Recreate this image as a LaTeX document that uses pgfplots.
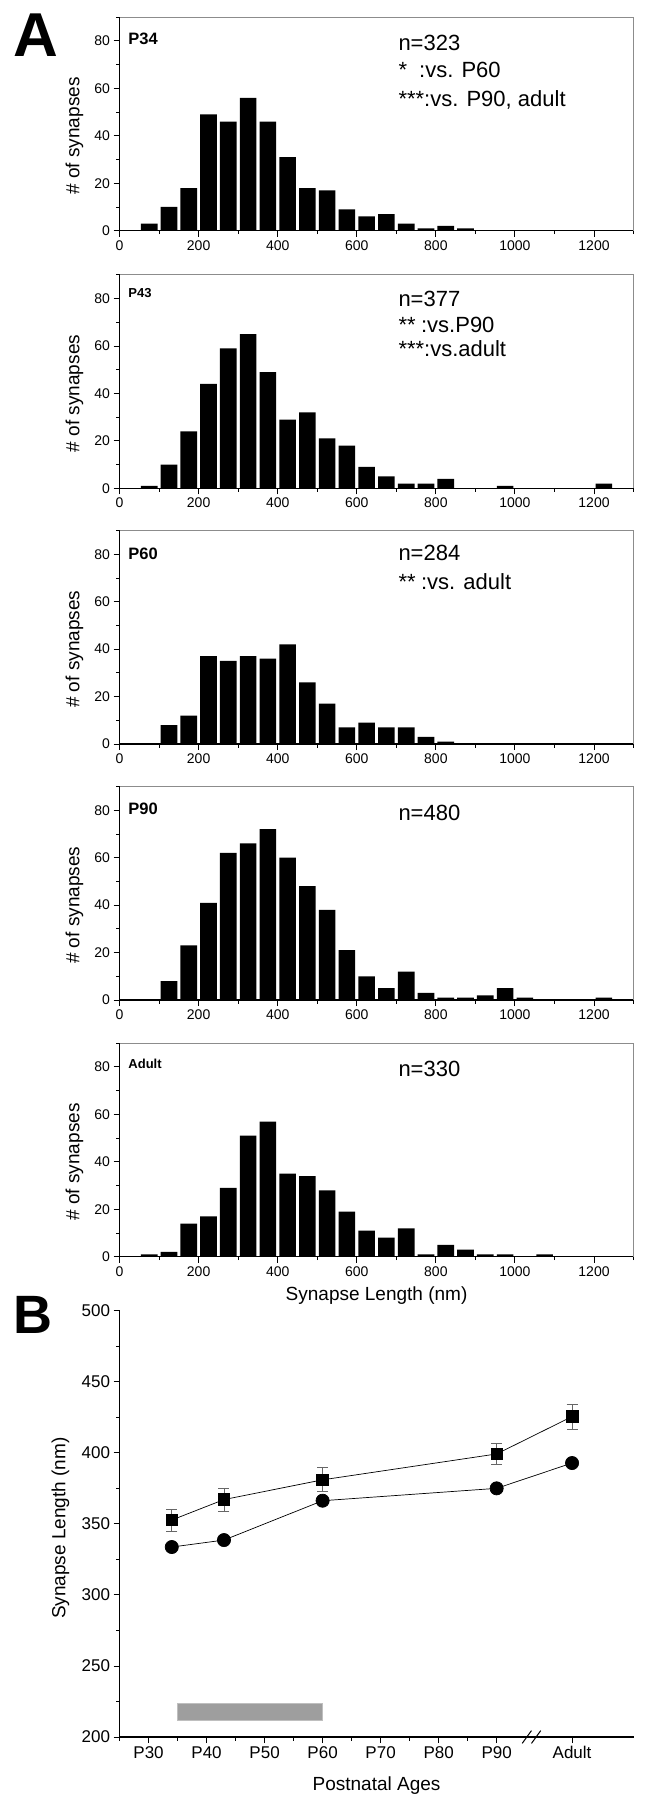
\documentclass[border=0pt]{standalone}
\usepackage{pgfplots}
\pgfplotsset{compat=1.18}
\usepackage{fontspec}
\setmainfont{Liberation Sans}
\begin{document}
\tikzset{
  pl/.style={anchor=west, inner sep=0pt, font=\fontsize{16.5}{18}\selectfont\bfseries},
  pls/.style={anchor=west, inner sep=0pt, font=\fontsize{13}{14}\selectfont\bfseries},
  nt/.style={anchor=west, inner sep=0pt, font=\fontsize{22}{24}\selectfont},
  yl/.style={rotate=90, anchor=center, inner sep=0pt, font=\fontsize{19}{21}\selectfont},
}
\pgfplotsset{
  /pgf/number format/assume math mode=true,
  histo/.style={
    scale only axis, width=514pt, height=213.5pt,
    xmin=0, xmax=1300, ymin=0, ymax=90,
    axis x line*=bottom, axis y line*=left,
    axis line style={line width=1.1pt, black},
    xtick={0,200,...,1200}, minor xtick={100,300,...,1300},
    ytick={0,20,...,80}, minor ytick={10,30,...,90},
    tick align=outside, major tick length=6pt, minor tick length=3.5pt,
    every tick/.style={line width=0.9pt, black},
    ticklabel style={font=\fontsize{14}{15}\selectfont},
    xticklabel style={/pgf/number format/1000 sep={}},
    ybar, bar width=42,
    clip=false,
  },
  hbar/.style={fill=black, draw=none},
}
\begin{tikzpicture}
\path[use as bounding box] (0,0) rectangle (647pt,-1800pt);
\node[anchor=north west, inner sep=0pt, font=\fontsize{62}{62}\selectfont\bfseries] at (8pt,-14pt) {A};
\node[anchor=north west, inner sep=0pt, font=\fontsize{54}{54}\selectfont\bfseries] at (8pt,-1296pt) {B};

% P34
\begin{axis}[histo, at={(114pt,-230.7pt)}, anchor=south west]
\addplot[hbar] coordinates {(75,3) (125,10) (175,18) (225,49) (275,46) (325,56) (375,46) (425,31) (475,18) (525,17) (575,9) (625,6) (675,7) (725,3) (775,1) (825,2) (875,1)};
\draw[black!45, line width=0.8pt] (rel axis cs:0,1) -- (rel axis cs:1,1) -- (rel axis cs:1,0);
\node[yl] at (rel axis cs:-0.0875,0.444) {\# of synapses};
\node[pl] at (axis cs:22,80.8) {P34};
\node[nt] at (axis cs:705,79.3) {n=323};
\node[nt] at (axis cs:705,67.7) {*\hspace{0.55em}:vs. P60};
\node[nt] at (axis cs:705,55.3) {***:vs. P90, adult};
\end{axis}

% P43
\begin{axis}[histo, at={(114pt,-488.3pt)}, anchor=south west]
\addplot[hbar] coordinates {(75,1) (125,10) (175,24) (225,44) (275,59) (325,65) (375,49) (425,29) (475,32) (525,21) (575,18) (625,9) (675,5) (725,2) (775,2) (825,4) (975,1) (1225,2)};
\draw[black!45, line width=0.8pt] (rel axis cs:0,1) -- (rel axis cs:1,1) -- (rel axis cs:1,0);
\node[yl] at (rel axis cs:-0.0875,0.444) {\# of synapses};
\node[pls] at (axis cs:22,82.2) {P43};
\node[nt] at (axis cs:705,79.7) {n=377};
\node[nt] at (axis cs:705,68.8) {**\hspace{0.25em}:vs.P90};
\node[nt] at (axis cs:705,58.7) {***:vs.adult};
\end{axis}

% P60
\begin{axis}[histo, at={(114pt,-744pt)}, anchor=south west]
\addplot[hbar] coordinates {(125,8) (175,12) (225,37) (275,35) (325,37) (375,36) (425,42) (475,26) (525,17) (575,7) (625,9) (675,7) (725,7) (775,3) (825,1)};
\draw[black!45, line width=0.8pt] (rel axis cs:0,1) -- (rel axis cs:1,1) -- (rel axis cs:1,0);
\node[yl] at (rel axis cs:-0.0875,0.444) {\# of synapses};
\node[pl] at (axis cs:22,80) {P60};
\node[nt] at (axis cs:705,80.5) {n=284};
\node[nt] at (axis cs:705,68.4) {**\hspace{0.25em}:vs. adult};
\end{axis}

% P90
\begin{axis}[histo, at={(114pt,-1000pt)}, anchor=south west]
\addplot[hbar] coordinates {(125,8) (175,23) (225,41) (275,62) (325,66) (375,72) (425,60) (475,48) (525,38) (575,21) (625,10) (675,5) (725,12) (775,3) (825,1) (875,1) (925,2) (975,5) (1025,1) (1225,1)};
\draw[black!45, line width=0.8pt] (rel axis cs:0,1) -- (rel axis cs:1,1) -- (rel axis cs:1,0);
\node[yl] at (rel axis cs:-0.0875,0.444) {\# of synapses};
\node[pl] at (axis cs:22,80.4) {P90};
\node[nt] at (axis cs:705,79) {n=480};
\end{axis}

% Adult
\begin{axis}[histo, at={(114pt,-1256.7pt)}, anchor=south west]
\addplot[hbar] coordinates {(75,1) (125,2) (175,14) (225,17) (275,29) (325,51) (375,57) (425,35) (475,34) (525,28) (575,19) (625,11) (675,8) (725,12) (775,1) (825,5) (875,3) (925,1) (975,1) (1075,1)};
\draw[black!45, line width=0.8pt] (rel axis cs:0,1) -- (rel axis cs:1,1) -- (rel axis cs:1,0);
\node[yl] at (rel axis cs:-0.0875,0.444) {\# of synapses};
\node[anchor=base, inner sep=0pt, font=\fontsize{19}{21}\selectfont] at (rel axis cs:0.5,-0.203) {Synapse Length (nm)};
\node[pls] at (axis cs:22,81.5) {Adult};
\node[nt] at (axis cs:705,79.1) {n=330};
\end{axis}

% Panel B
\begin{axis}[
  at={(114pt,-1737pt)}, anchor=south west,
  scale only axis, width=514pt, height=426.3pt,
  xmin=25, xmax=113.6, ymin=200, ymax=500,
  axis x line*=bottom, axis y line*=left,
  axis line style={line width=1.1pt, black},
  xtick={30,40,50,60,70,80,90,103},
  xticklabels={P30,P40,P50,P60,P70,P80,P90,Adult},
  minor xtick={25,35,45,55,65,75,85},
  ytick={200,250,...,500}, minor ytick={225,275,...,475},
  tick align=outside, major tick length=6pt, minor tick length=3.5pt,
  every tick/.style={line width=0.9pt, black},
  ticklabel style={font=\fontsize{17}{18}\selectfont},
  clip=false,
]
\addplot[fill=black!38, draw=black!25, line width=0.6pt] coordinates {(35,211.5) (60,211.5) (60,223.7) (35,223.7) (35,211.5)};
\addplot[black, line width=0.7pt, mark=square*, mark size=5.8pt, mark options={solid, fill=black},
  error bars/.cd, y dir=both, y explicit,
  error bar style={black!60, line width=0.8pt},
  error mark options={black!60, rotate=90, mark size=5.5pt, line width=0.8pt}]
  coordinates {(34,352.7) +- (0,7.7) (43,367.1) +- (0,8.1) (60,381) +- (0,8.5) (90,399.2) +- (0,7.2) (103,425.5) +- (0,8.8)};
\addplot[black, line width=0.7pt, mark=*, mark size=6.6pt, mark options={solid, fill=black}]
  coordinates {(34,333.7) (43,338.6) (60,366.3) (90,375.0) (103,392.8)};
\draw[black, line width=1pt] (axis cs:94.4,195.5) -- (axis cs:96.0,204.5);
\draw[black, line width=1pt] (axis cs:96.0,195.5) -- (axis cs:97.6,204.5);
\node[yl] at (rel axis cs:-0.1148,0.49) {Synapse Length (nm)};
\node[anchor=base, inner sep=0pt, font=\fontsize{19}{21}\selectfont] at (rel axis cs:0.5,-0.126) {Postnatal Ages};
\end{axis}
\end{tikzpicture}
\end{document}
